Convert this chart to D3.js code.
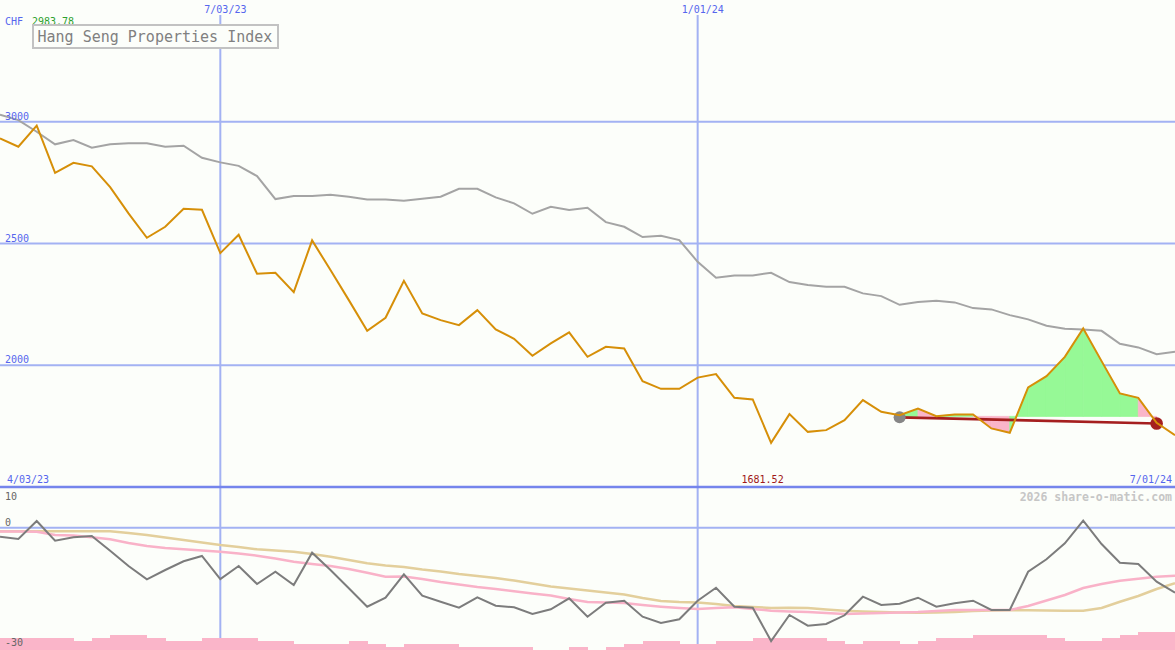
<!DOCTYPE html>
<html><head><meta charset="utf-8">
<script src="https://cdn.jsdelivr.net/npm/d3@7"></script>
<style>
html,body{margin:0;padding:0;background:#fcfefa;}
svg{display:block;}
text{font-family:"DejaVu Sans Mono",monospace;}
</style></head>
<body>
<svg id="c" width="1175" height="650"></svg>
<script>
// ---- data (weekly, index 0 = 4/03/23 ... index 64 = 7/01/24) ----
const title = "Hang Seng Properties Index";
const currency = "CHF";
const startLabel = "4/03/23";
const endLabel = "7/01/24";
const tickIndex = [12, 38];
const tickLabels = ["7/03/23", "1/01/24"];
const priceTicks = [3000, 2500, 2000];
const lowerTicks = [10, 0, -30];

const price = [2931.8, 2897.3, 2983.78, 2790.5, 2831.6, 2816.8, 2731.7, 2623.7, 2523.5, 2568.7,
  2642.6, 2638.5, 2460.6, 2535.8, 2375.6, 2379.7, 2300.4, 2512.8, 2390.8, 2267.5,
  2141.4, 2194.8, 2346.8, 2212.9, 2185.4, 2164.8, 2226.4, 2147.2, 2108.6, 2038.7,
  2089.7, 2134.8, 2034.6, 2075.7, 2069.1, 1934.8, 1903.2, 1903.2, 1949.2, 1963.6,
  1866.2, 1859.7, 1681.52, 1799.2, 1726.5, 1733.5, 1774.6, 1856.7, 1808.7, 1795.1,
  1821.8, 1791, 1798, 1798, 1740.5, 1722.4, 1908.9, 1955.3, 2034.6, 2151.3,
  2016.9, 1884.3, 1866.2, 1763.5, 1712.9];

const benchmark = [3028.8, 3007, 2958.9, 2907.2, 2924.8, 2893.2, 2907.2, 2911.3, 2911.3, 2897.3,
  2901.4, 2852.1, 2833.2, 2818.8, 2776.9, 2682.5, 2694.8, 2694.8, 2700.1, 2691.9,
  2681.2, 2681.2, 2675.5, 2683.7, 2691.9, 2724.8, 2724.8, 2689.4, 2664.8, 2622.1,
  2650.8, 2637.3, 2646.7, 2587.9, 2568.7, 2526.3, 2531.7, 2514.1, 2424.9, 2359.1,
  2369, 2369, 2379.7, 2341.5, 2329.2, 2322.2, 2322.2, 2295.1, 2284, 2248.2,
  2259.3, 2264.7, 2258.1, 2234.7, 2229.4, 2205.9, 2188.3, 2162, 2149.6, 2147.2,
  2141.4, 2088, 2073.2, 2045.7, 2055.2];

const relStrength = [-2.2, -2.76, 1.66, -3.18, -2.34, -2.02, -5.63, -9.39, -12.65, -10.37,
  -8.23, -6.93, -12.58, -9.39, -13.8, -10.79, -14.05, -6.12, -10.37, -14.86,
  -19.37, -17.17, -11.42, -16.67, -18.15, -19.62, -17.07, -19.13, -19.52, -21.17,
  -20.01, -17.31, -21.83, -18.39, -17.9, -21.83, -23.37, -22.47, -17.9, -14.71,
  -19.37, -19.62, -27.79, -21.41, -24.04, -23.62, -21.48, -16.92, -18.96, -18.64,
  -17.17, -19.37, -18.54, -17.9, -20.18, -20.18, -10.79, -7.74, -3.82, 1.73,
  -3.99, -8.58, -8.9, -13.24, -15.94];

const avgShort = [-0.92, -0.92, -0.97, -1.78, -1.9, -2.34, -2.83, -3.74, -4.48, -4.97,
  -5.29, -5.58, -5.88, -6.32, -6.86, -7.55, -8.33, -8.9, -9.39, -10.12,
  -11.03, -12.01, -11.96, -12.58, -13.31, -13.93, -14.54, -15.03, -15.6, -16.13,
  -16.63, -17.48, -18.22, -18.34, -18.47, -18.96, -19.37, -19.69, -19.94, -19.69,
  -19.52, -19.94, -20.36, -20.55, -20.67, -20.92, -21.17, -21.04, -20.92, -20.8,
  -20.67, -20.43, -20.18, -20.18, -20.18, -20.18, -19.2, -17.85, -16.5, -14.79,
  -13.8, -12.99, -12.5, -12.01, -11.77];

const avgLong = [-0.87, -0.87, -0.87, -0.87, -0.87, -0.87, -0.87, -1.29, -1.78, -2.39,
  -3.01, -3.62, -4.23, -4.72, -5.29, -5.58, -5.88, -6.44, -7.1, -7.91,
  -8.72, -9.26, -9.63, -10.25, -10.74, -11.35, -11.84, -12.33, -12.94, -13.68,
  -14.42, -14.91, -15.4, -15.89, -16.38, -17.24, -17.98, -18.22, -18.34, -18.71,
  -19.2, -19.45, -19.69, -19.62, -19.69, -20.06, -20.36, -20.55, -20.67, -20.8,
  -20.85, -20.8, -20.67, -20.43, -20.31, -20.26, -20.26, -20.31, -20.36, -20.36,
  -19.69, -18.15, -16.75, -15.03, -13.63];

const volumeLevel = [4, 4, 4, 4, 3, 4, 5, 5, 4, 3,
  3, 4, 4, 4, 3, 3, 2, 2, 2, 3,
  2, 1, 2, 2, 2, 1, 1, 1, 1, 0,
  0, 1, 0, 1, 2, 3, 3, 2, 2, 3,
  3, 4, 4, 4, 4, 3, 2, 3, 3, 2,
  3, 4, 4, 5, 5, 5, 5, 4, 3, 3,
  4, 5, 6, 6];

// signal window: from trendIndex[0] to trendIndex[1]
const trendIndex = [49, 63];
const trendValue = [1786, 1761];
const signalBase = 1790;
const signal = ["up", "down", "up", "up", "down", "down", "up", "up", "up", "up", "up", "up", "up", "down"];

// ---- drawing ----
const W = 1175, H = 650;
const svg = d3.select("#c");
const x = d3.scaleLinear().domain([0, price.length - 1]).range([0, W]);
const y = d3.scaleLinear().domain([1500, 3500]).range([487, 0]);
const y2 = d3.scaleLinear().domain([-30, 10]).range([650, 487]);
const yv = d3.scaleLinear().domain([0, 10]).range([650, 619.3]);

const gridLight = "#a3b2f3", gridDark = "#7585ec", blueText = "#5566ee";

svg.append("rect").attr("width", W).attr("height", H).attr("fill", "#fcfefa");

// horizontal grid
svg.selectAll("line.hg").data(priceTicks).join("line")
  .attr("x1", 0).attr("x2", W).attr("y1", d => y(d)).attr("y2", d => y(d))
  .attr("stroke", gridLight).attr("stroke-width", 2);
svg.append("line").attr("x1", 0).attr("x2", W).attr("y1", y2(0)).attr("y2", y2(0))
  .attr("stroke", gridLight).attr("stroke-width", 2);
// vertical grid
svg.selectAll("line.vg").data(tickIndex).join("line")
  .attr("x1", d => x(d)).attr("x2", d => x(d)).attr("y1", 15).attr("y2", H)
  .attr("stroke", gridLight).attr("stroke-width", 2);
// separator
svg.append("line").attr("x1", 0).attr("x2", W).attr("y1", y(1500)).attr("y2", y(1500))
  .attr("stroke", gridDark).attr("stroke-width", 2.5);

// volume bars
svg.selectAll("rect.vb").data(volumeLevel).join("rect")
  .attr("x", (d, i) => x(i)).attr("width", (d, i) => x(i + 1) - x(i) + 0.5)
  .attr("y", d => yv(d)).attr("height", d => yv(0) - yv(d))
  .attr("fill", "#fab5c9").attr("shape-rendering", "crispEdges");

// lower panel lines
const l2 = d3.line().x((d, i) => x(i)).y(d => y2(d));
svg.append("path").attr("d", l2(avgLong)).attr("fill", "none").attr("stroke", "#e3cf9c").attr("stroke-width", 2.5);
svg.append("path").attr("d", l2(avgShort)).attr("fill", "none").attr("stroke", "#f9b2c8").attr("stroke-width", 2.5);
svg.append("path").attr("d", l2(relStrength)).attr("fill", "none").attr("stroke", "#7c7c7c").attr("stroke-width", 2);

// benchmark line
const l1 = d3.line().x((d, i) => x(i)).y(d => y(d));
svg.append("path").attr("d", l1(benchmark)).attr("fill", "none").attr("stroke", "#a4a4a4").attr("stroke-width", 2);

// signal fills
const area = d3.area().x(d => x(d.i)).y0(y(signalBase)).y1(d => y(d.v));
signal.forEach((s, k) => {
  const i0 = trendIndex[0] + k;
  const seg = [{i: i0, v: price[i0]}, {i: i0 + 1, v: price[i0 + 1]}];
  const col = s === "up" ? "#96f996" : "#fab5c9";
  svg.append("path").attr("d", area(seg))
    .attr("fill", col).attr("stroke", col).attr("stroke-width", 0.8).attr("stroke-linejoin", "miter");
});

// trend line
const tl = d3.line().x(d => x(d[0])).y(d => y(d[1]));
svg.append("path").attr("d", tl([[trendIndex[0], trendValue[0]], [trendIndex[1], trendValue[1]]]))
  .attr("fill", "none").attr("stroke", "#a51f1f").attr("stroke-width", 2.6);

// dots
svg.append("circle").attr("cx", x(trendIndex[0])).attr("cy", y(trendValue[0])).attr("r", 6).attr("fill", "#868686");
svg.append("circle").attr("cx", x(trendIndex[1])).attr("cy", y(trendValue[1])).attr("r", 6.3).attr("fill", "#a51f1f");

// price line
svg.append("path").attr("d", l1(price)).attr("fill", "none").attr("stroke", "#d68f08").attr("stroke-width", 2);

// y labels
svg.selectAll("text.pt").data(priceTicks).join("text")
  .attr("x", 5).attr("y", d => y(d) - 2).attr("font-size", 10).attr("fill", blueText).text(d => d);
const lowerY = {"10": 499.5, "0": y2(0) - 2, "-30": 646};
svg.selectAll("text.lt").data(lowerTicks).join("text")
  .attr("x", 5).attr("y", d => lowerY[String(d)]).attr("font-size", 10).attr("fill", "#666").text(d => d);

// date labels
svg.selectAll("text.dt").data(tickIndex).join("text")
  .attr("x", d => x(d) - 16).attr("y", 13).attr("font-size", 10).attr("fill", blueText)
  .text((d, i) => tickLabels[i]);
svg.append("text").attr("x", 7).attr("y", 483).attr("font-size", 10).attr("fill", blueText).text(startLabel);
svg.append("text").attr("x", 1172).attr("y", 483).attr("text-anchor", "end").attr("font-size", 10).attr("fill", blueText).text(endLabel);

// min / max labels
const maxV = d3.max(price), minV = d3.min(price), minI = price.indexOf(minV);
svg.append("text").attr("x", x(minI) - 8.5).attr("y", 483).attr("text-anchor", "middle")
  .attr("font-size", 10).attr("fill", "#a01818").text(minV.toFixed(2));
svg.append("text").attr("x", 5).attr("y", 25).attr("font-size", 10).attr("fill", blueText).text(currency);
svg.append("text").attr("x", 32).attr("y", 25).attr("font-size", 10).attr("fill", "#2ca02c").text(maxV.toFixed(2));

// legend
svg.append("rect").attr("x", 33).attr("y", 25).attr("width", 245).attr("height", 23)
  .attr("fill", "#fcfefa").attr("stroke", "#c2c2c2").attr("stroke-width", 2);
svg.append("text").attr("x", 37.5).attr("y", 42).attr("font-size", 15).attr("fill", "#808080").text(title);

// watermark
svg.append("text").attr("x", 1172).attr("y", 500.5).attr("text-anchor", "end")
  .attr("font-size", 11.5).attr("font-weight", "bold").attr("fill", "#c6c6c6").text("2026 share-o-matic.com");
</script>
</body></html>
